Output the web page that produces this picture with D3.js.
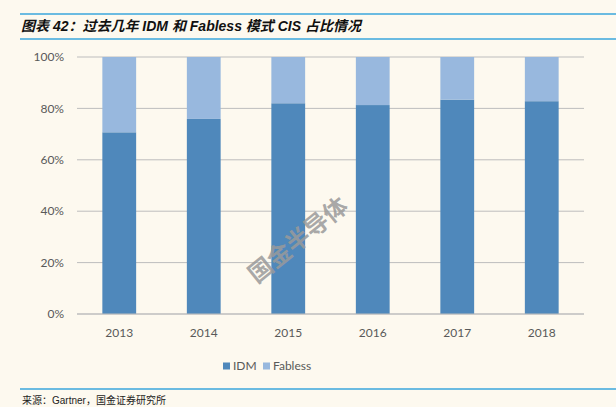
<!DOCTYPE html>
<html>
<head>
<meta charset="utf-8">
<script src="https://cdn.jsdelivr.net/npm/d3@7"></script>
<style>
  html, body { margin: 0; padding: 0; background: #fdf9ef; }
  svg { display: block; }
</style>
</head>
<body>
<svg id="chart" width="616" height="407"></svg>
<script>
// ---------------------- DATA ----------------------
const years = ["2013", "2014", "2015", "2016", "2017", "2018"];
const idmShare = [70.7, 75.9, 82.0, 81.3, 83.4, 82.8];
const fablessShare = [29.3, 24.1, 18.0, 18.7, 16.6, 17.2];
const yTicks = [0, 20, 40, 60, 80, 100];
const seriesNames = ["IDM", "Fabless"];
const seriesColors = ["#4f88bb", "#98b8de"];

const titleText = "图表 42：过去几年 IDM 和 Fabless 模式 CIS 占比情况";
const sourceText = "来源：Gartner，国金证券研究所";

// ---------------------- LAYOUT ----------------------
const width = 616, height = 407;
const margin = {left: 77, right: 32, top: 57, bottom: 93};
const svg = d3.select("#chart");
const font = "Lato, 'Open Sans', 'Liberation Sans', sans-serif";

// header lines + title
svg.append("line").attr("x1", 20).attr("x2", width).attr("y1", 14).attr("y2", 14)
    .attr("stroke", "#3aa6dd").attr("stroke-width", 1.5);
svg.append("line").attr("x1", 20).attr("x2", width).attr("y1", 39).attr("y2", 39)
    .attr("stroke", "#3aa6dd").attr("stroke-width", 1.5);
svg.append("text")
    .attr("x", 21).attr("y", 31)
    .attr("font-family", "'Liberation Sans', 'Noto Sans CJK SC', sans-serif")
    .attr("font-size", 14).attr("font-weight", "bold").attr("font-style", "italic")
    .attr("fill", "#111")
    .text(titleText);

// scales
const x = d3.scaleBand().domain(years)
    .range([margin.left, width - margin.right])
    .paddingInner(0.6).paddingOuter(0.3);
const y = d3.scaleLinear().domain([0, 100]).range([height - margin.bottom, margin.top]);

// gridlines
svg.append("g")
    .selectAll("line")
    .data(yTicks)
    .join("line")
    .attr("x1", margin.left).attr("x2", width - margin.right)
    .attr("y1", d => y(d)).attr("y2", d => y(d))
    .attr("stroke", "#bdbdbd").attr("stroke-width", 1);

// y tick labels
svg.append("g")
    .selectAll("text")
    .data(yTicks)
    .join("text")
    .attr("x", 64).attr("y", d => y(d))
    .attr("dy", "0.35em")
    .attr("text-anchor", "end")
    .attr("font-family", font).attr("font-size", 12)
    .attr("fill", "#595959")
    .text(d => d + "%");

// stacked bars
const rows = years.map((yr, i) => ({year: yr, IDM: idmShare[i], Fabless: fablessShare[i]}));
const stacked = d3.stack().keys(seriesNames)(rows);

svg.append("g")
    .selectAll("g")
    .data(stacked)
    .join("g")
    .attr("fill", (d, i) => seriesColors[i])
    .selectAll("rect")
    .data(d => d)
    .join("rect")
    .attr("x", d => x(d.data.year))
    .attr("width", x.bandwidth())
    .attr("y", d => y(d[1]))
    .attr("height", d => y(d[0]) - y(d[1]));

// x axis line
svg.append("line")
    .attr("x1", margin.left).attr("x2", width - margin.right)
    .attr("y1", y(0)).attr("y2", y(0))
    .attr("stroke", "#bdbdbd").attr("stroke-width", 1.2);

// x labels
svg.append("g")
    .selectAll("text")
    .data(years)
    .join("text")
    .attr("x", d => x(d) + x.bandwidth() / 2)
    .attr("y", 333).attr("dy", "0.35em")
    .attr("text-anchor", "middle")
    .attr("font-family", font).attr("font-size", 12)
    .attr("fill", "#595959")
    .text(d => d);

// watermark
svg.append("text")
    .attr("transform", "translate(298,240) rotate(-39)")
    .attr("text-anchor", "middle").attr("dy", "0.35em")
    .attr("font-family", "'Noto Sans CJK SC', sans-serif")
    .attr("font-size", 24).attr("font-weight", "bold")
    .attr("fill", "#9a9a9a").attr("fill-opacity", 0.85)
    .text("国金半导体");

// legend
const legendItems = [{name: "IDM", x: 223}, {name: "Fabless", x: 263}];
const legend = svg.append("g")
    .selectAll("g")
    .data(legendItems)
    .join("g")
    .attr("transform", d => `translate(${d.x},366)`);
legend.append("rect")
    .attr("x", 0).attr("y", -3.5).attr("width", 7).attr("height", 7)
    .attr("fill", (d, i) => seriesColors[i]);
legend.append("text")
    .attr("x", 10).attr("dy", "0.35em")
    .attr("font-family", font).attr("font-size", 12)
    .attr("fill", "#595959")
    .text(d => d.name);

// footer
svg.append("line").attr("x1", 20).attr("x2", width).attr("y1", 389).attr("y2", 389)
    .attr("stroke", "#3aa6dd").attr("stroke-width", 1.5);
svg.append("text")
    .attr("x", 22).attr("y", 404)
    .attr("font-family", "'Liberation Sans', 'Noto Sans CJK SC', sans-serif")
    .attr("font-size", 10).attr("fill", "#222")
    .text(sourceText);
</script>
</body>
</html>
